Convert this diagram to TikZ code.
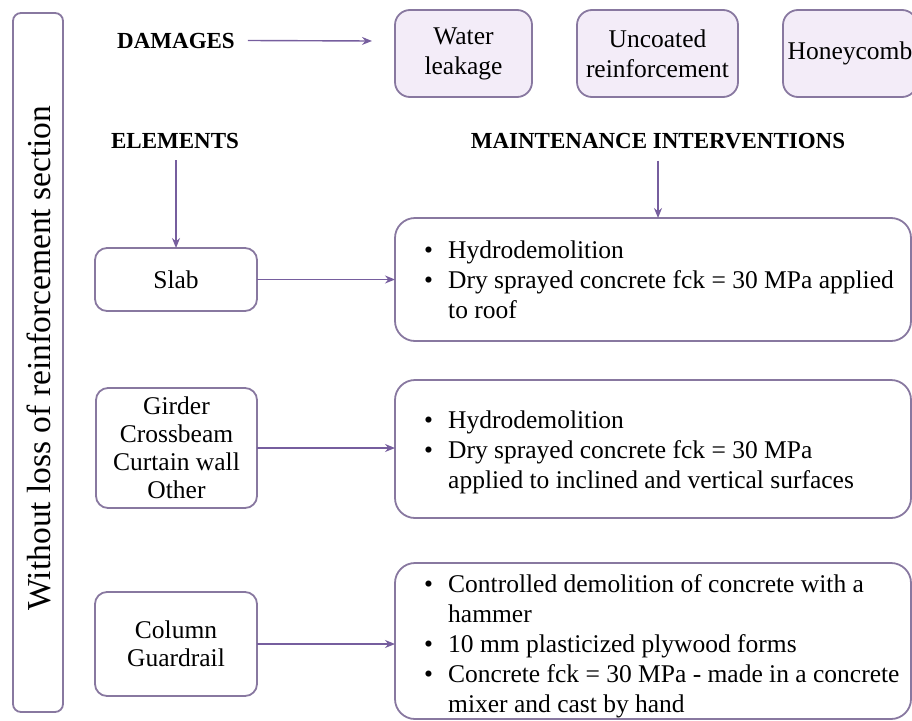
\documentclass[tikz,border=0pt]{standalone}
\usepackage{fontspec}
\setmainfont{Liberation Serif}
\usetikzlibrary{arrows.meta}
\definecolor{edgecol}{RGB}{136,120,160}
\definecolor{arrowcol}{RGB}{118,94,158}
\definecolor{dmgfill}{RGB}{243,236,248}
\newcommand{\bodysize}{\fontsize{25.5}{30}\selectfont}
\newcommand{\elemsize}{\fontsize{25.5}{28}\selectfont}
\newcommand{\headsize}{\fontsize{23}{27}\selectfont\bfseries}
\begin{document}
\begin{tikzpicture}[x=1pt,y=-1pt,
  frame/.style={draw=edgecol, line width=1.8pt, anchor=north west,
    inner sep=0pt, outer sep=0pt, align=center},
  elembox/.style={frame, rounded corners=12pt, font=\elemsize},
  dmgbox/.style={frame, rounded corners=15pt, fill=dmgfill, font=\bodysize},
  intbox/.style={frame, rounded corners=20pt},
  heading/.style={anchor=base, inner sep=0pt, font=\headsize},
  itemline/.style={anchor=base west, inner sep=0pt, font=\bodysize},
  flow/.style={draw=arrowcol, line width=1.4pt,
    -{Stealth[length=10pt,width=8pt]}}
]
\useasboundingbox (0,0) rectangle (912,720);
\clip (0,0) rectangle (912,720);

% side band
\node[frame, rounded corners=8pt, minimum width=50pt, minimum height=699pt]
  (side) at (13,13) {};
\node[anchor=base, rotate=90, inner sep=0pt, font=\fontsize{33.5}{36}\selectfont]
  (sidetext) at (50,358) {Without loss of reinforcement section};

% headings
\node[heading] (dam) at (176,48) {DAMAGES};
\node[heading] (elem) at (175,148) {ELEMENTS};
\node[heading] (maint) at (658,148) {MAINTENANCE INTERVENTIONS};

% damages
\node[dmgbox, minimum width=137pt, minimum height=87pt] (water) at (395,10)
  {Water\\leakage};
\node[dmgbox, minimum width=161pt, minimum height=87pt] (uncoated) at (577,10)
  {Uncoated\\reinforcement};
\node[dmgbox, minimum width=134pt, minimum height=87pt] (honey) at (783,10)
  {Honeycomb};

% elements
\node[elembox, minimum width=162pt, minimum height=63pt] (slab) at (95,248)
  {Slab};
\node[elembox, minimum width=161pt, minimum height=120pt] (girder) at (96,388)
  {Girder\\Crossbeam\\Curtain wall\\Other};
\node[elembox, minimum width=162pt, minimum height=104pt] (column) at (95,592)
  {Column\\Guardrail};

% interventions
\node[intbox, minimum width=516pt, minimum height=123pt] (int1) at (395,218) {};
\node[intbox, minimum width=516pt, minimum height=138pt] (int2) at (395,380) {};
\node[intbox, minimum width=516pt, minimum height=156pt] (int3) at (395,563) {};

\node[itemline] (b11) at (424,258) {\textbullet};
\node[itemline] (t11) at (448,258) {Hydrodemolition};
\node[itemline] (b12) at (424,288) {\textbullet};
\node[itemline] (t12) at (448,288) {Dry sprayed concrete fck = 30 MPa applied};
\node[itemline] (t13) at (448,318) {to roof};

\node[itemline] (b21) at (424,428) {\textbullet};
\node[itemline] (t21) at (448,428) {Hydrodemolition};
\node[itemline] (b22) at (424,458) {\textbullet};
\node[itemline] (t22) at (448,458) {Dry sprayed concrete fck = 30 MPa};
\node[itemline] (t23) at (448,488) {applied to inclined and vertical surfaces};

\node[itemline] (b31) at (424,592) {\textbullet};
\node[itemline] (t31) at (448,592) {Controlled demolition of concrete with a};
\node[itemline] (t32) at (448,622) {hammer};
\node[itemline] (b33) at (424,652) {\textbullet};
\node[itemline] (t33) at (448,652) {10 mm plasticized plywood forms};
\node[itemline] (b34) at (424,682) {\textbullet};
\node[itemline] (t34) at (448,682) {Concrete fck = 30 MPa - made in a concrete};
\node[itemline] (t35) at (448,712) {mixer and cast by hand};

% connectors
\coordinate (damend) at (372,41);
\draw[flow] ([xshift=13pt]dam.east) -- (damend);

\path (slab.north |- elem.south) coordinate (elemfoot);
\draw[flow] ([yshift=-12pt]elemfoot) -- (slab.north);

\path (maint.south |- int1.north) coordinate (int1top);
\draw[flow] ([yshift=-12pt]maint.south) -- (int1top);

\draw[flow] (slab.east) -- (slab.east -| int1.west);
\draw[flow] (girder.east) -- (girder.east -| int2.west);
\draw[flow] (column.east) -- (column.east -| int3.west);
\end{tikzpicture}
\end{document}
